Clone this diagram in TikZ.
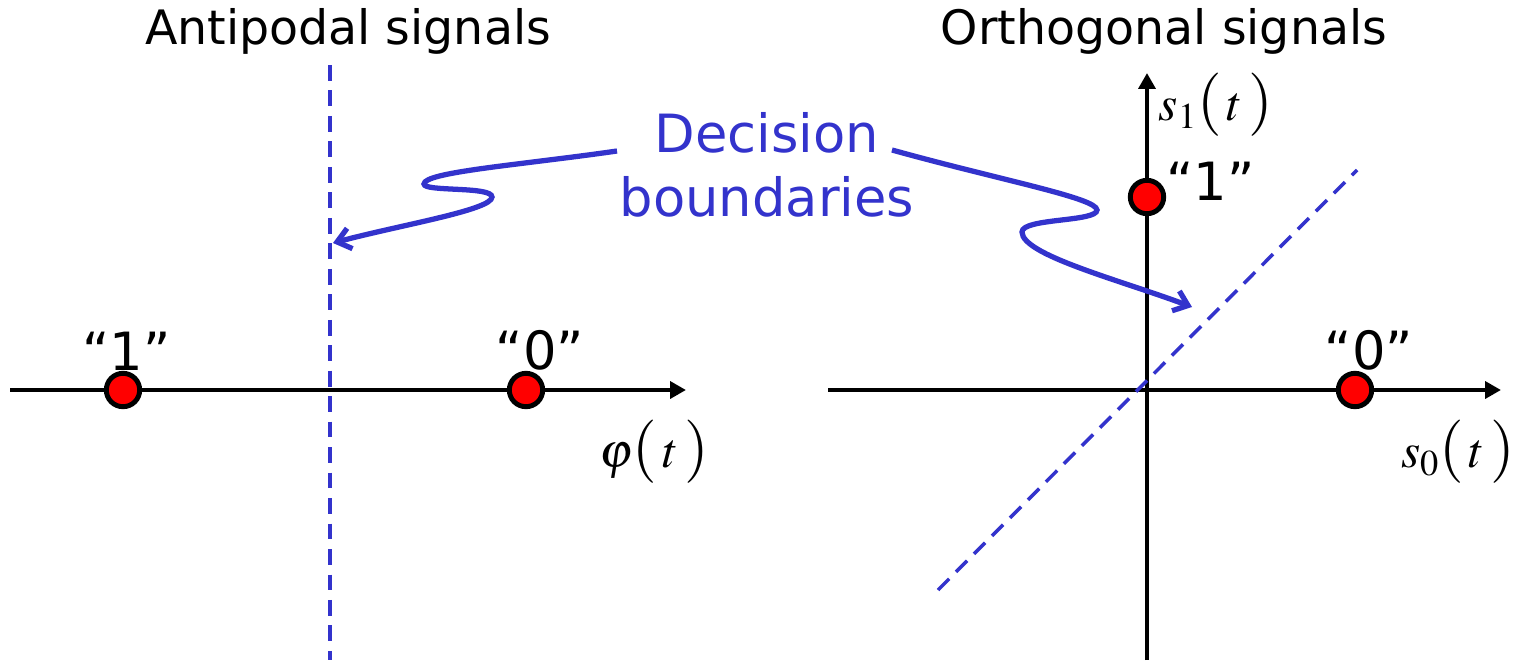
\documentclass[tikz,border=0pt]{standalone}
\usepackage{mathptmx}
\usepackage{fontspec}
\setmainfont{DejaVu Sans}
\usetikzlibrary{arrows.meta,positioning}
\definecolor{bndblue}{RGB}{51,51,204}
\newcommand{\tallpar}[1]{\hbox{\fontsize{36}{36}\selectfont$($}\,#1\,\hbox{\fontsize{36}{36}\selectfont$)$}}
\tikzset{
  axis/.style={line width=2.8pt,-{Triangle[length=9pt,width=9.5pt]}},
  dot/.style={circle,draw,line width=2.8pt,fill=red,minimum size=19pt,inner sep=0pt},
  bnd/.style={bndblue,line width=2pt,dash pattern=on 9pt off 5.5pt},
  pointer/.style={bndblue,line width=3pt,-{Straight Barb[length=7.5pt,width=12pt]}},
  ttl/.style={font=\fontsize{27}{32}\selectfont,inner sep=0pt},
  sym/.style={font=\fontsize{30}{34}\selectfont,inner sep=0pt},
  lbl/.style={font=\fontsize{28}{32}\selectfont,inner sep=0pt},
  dec/.style={text=bndblue,font=\fontsize{30}{36}\selectfont,inner sep=0pt},
}

\begin{document}
\begin{tikzpicture}[x=0.02cm,y=-0.02cm]
 \useasboundingbox (0,0) rectangle (1519,660);
 % antipodal
 \node[ttl] (tanti) at (348,31) {Antipodal signals};
 \coordinate (lx0) at (10,390);
 \coordinate (lx1) at (686,390);
 \draw[axis] (lx0) -- (lx1);
 \coordinate (lb0) at (330,65);
 \coordinate (lb1) at (330,660);
 \draw[bnd] (lb0) -- (lb1);
 \node[dot] (a1) at (123,390) {};
 \node[dot] (a0) at (526,390) {};
 \node[sym,above=0pt of a1,xshift=2pt] (qa1) {“1”};
 \node[sym,above=0pt of a0,xshift=8pt] (qa0) {“0”};
 \node[lbl] (phi) at (654,452) {$\varphi\tallpar{t}$};
 % orthogonal
 \node[ttl] (torth) at (1164,31) {Orthogonal signals};
 \coordinate (rx0) at (828,390);
 \coordinate (rx1) at (1501,390);
 \coordinate (ry0) at (1147,660);
 \coordinate (ry1) at (1147,73);
 \draw[axis] (rx0) -- (rx1);
 \draw[axis] (ry0) -- (ry1);
 \coordinate (dg0) at (938,590);
 \coordinate (dg1) at (1357,170);
 \draw[bnd] (dg0) -- (dg1);
 \node[dot] (o1) at (1147,197) {};
 \node[dot] (o0) at (1355,390) {};
 \node[sym,right=0pt of o1,yshift=9pt] (qo1) {“1”};
 \node[sym,above=0pt of o0,xshift=8pt] (qo0) {“0”};
 \node[lbl] (s1) at (1216,105) {$s_1\tallpar{t}$};
 \node[lbl] (s0) at (1458,452) {$s_0\tallpar{t}$};
 % decision boundaries
 \node[dec] (dec1) at (767,133) {Decision};
 \node[dec] (dec2) at (767,197) {boundaries};
 \coordinate (cl) at (617,151);
 \coordinate (cr) at (892,150);
 \coordinate (pl) at (333,243);
 \coordinate (pr) at (1192,307);
 \draw[pointer] (cl) .. controls (520,165) and (424,172) .. (424,184)
   .. controls (424,192) and (492,186) .. (492,197)
   .. controls (492,210) and (400,225) .. (pl);
 \draw[pointer] (cr) .. controls (1000,180) and (1097,198) .. (1097,210)
   .. controls (1097,222) and (1022,218) .. (1022,232)
   .. controls (1022,255) and (1120,280) .. (pr);
\end{tikzpicture}
\end{document}
